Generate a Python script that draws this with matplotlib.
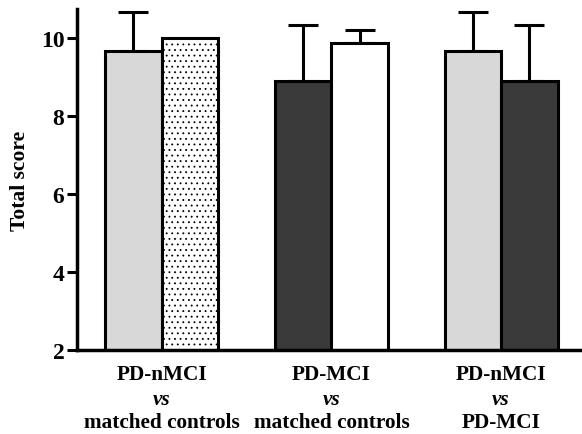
import numpy as np
import matplotlib
matplotlib.use("Agg")
import matplotlib.pyplot as plt

plt.rcParams["font.family"] = ["Liberation Serif", "DejaVu Serif"]
plt.rcParams["font.weight"] = "bold"
plt.rcParams["hatch.linewidth"] = 0.6

# ---------------------------------------------------------------------------
# Data
# ---------------------------------------------------------------------------
groups = ["PD-nMCI", "PD-MCI", "PD-nMCI"]
groups_bottom = ["matched controls", "matched controls", "PD-MCI"]
left_means = [9.67, 8.90, 9.67]
left_errs = [1.00, 1.43, 1.00]
right_means = [10.00, 9.87, 8.90]
right_errs = [0.0, 0.33, 1.43]
left_colors = ["#d8d8d8", "#3a3a3a", "#d8d8d8"]
right_colors = ["white", "white", "#3a3a3a"]
right_hatches = ["...", "", ""]
yticks = [2, 4, 6, 8, 10]

fig = plt.figure(figsize=(5.82, 4.35), dpi=100)
ax = fig.add_axes([0.132, 0.193, 0.868, 0.784])

centers = np.arange(len(groups)) * 3.0
w = 1.0

for i, c in enumerate(centers):
    ax.bar(c - w / 2, left_means[i], width=w, bottom=0, color=left_colors[i],
           edgecolor="black", linewidth=2.2, zorder=2)
    ax.bar(c + w / 2, right_means[i], width=w, bottom=0, color=right_colors[i],
           edgecolor="black", linewidth=2.2, hatch=right_hatches[i], zorder=2)
    ax.errorbar(c - w / 2, left_means[i], yerr=[[0], [left_errs[i]]],
                fmt="none", ecolor="black", elinewidth=2.2, capsize=10.5,
                capthick=2.2, zorder=1)
    if right_errs[i] > 0:
        ax.errorbar(c + w / 2, right_means[i], yerr=[[0], [right_errs[i]]],
                    fmt="none", ecolor="black", elinewidth=2.2, capsize=10.5,
                    capthick=2.2, zorder=1)

ax.set_xlim(-1.5, 7.43)
ax.set_ylim(2, 10.74)
ax.set_yticks(yticks)
ax.set_yticklabels([str(t) for t in yticks], fontsize=17, fontweight="bold")
ax.set_xticks([])
ax.tick_params(axis="y", direction="out", length=7, width=2.2, pad=2)

for side in ["top", "right"]:
    ax.spines[side].set_visible(False)
for side in ["left", "bottom"]:
    ax.spines[side].set_linewidth(2.5)

ax.set_ylabel("Total score", fontsize=15.5, fontweight="bold", labelpad=8)

# Three-line group labels
for i, c in enumerate(centers):
    ax.text(c, -0.07, groups[i], transform=ax.get_xaxis_transform(),
            ha="center", va="center", fontsize=15.3, fontweight="bold")
    ax.text(c, -0.143, "vs", transform=ax.get_xaxis_transform(),
            ha="center", va="center", fontsize=15.3, fontweight="bold",
            style="italic")
    ax.text(c, -0.21, groups_bottom[i], transform=ax.get_xaxis_transform(),
            ha="center", va="center", fontsize=15.3, fontweight="bold")

fig.savefig("out.png", dpi=100)
